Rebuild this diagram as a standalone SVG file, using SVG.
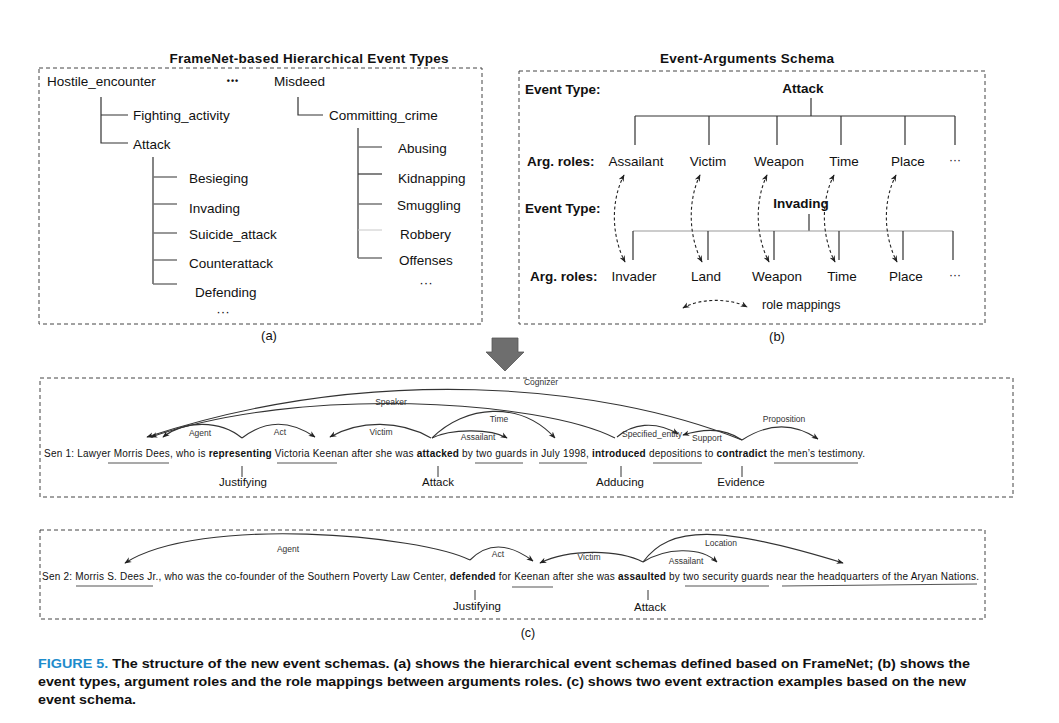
<svg xmlns="http://www.w3.org/2000/svg" width="1059" height="723" viewBox="0 0 1059 723">
<defs>
<style>
text{font-family:"Liberation Sans",Arial,sans-serif;fill:#111}
.t{font-size:13.5px}
.b{font-weight:bold}
.box{fill:none;stroke:#444;stroke-width:1;stroke-dasharray:4,3}
.tr{stroke:#333;stroke-width:1.2;fill:none}
.tg{stroke:#777;stroke-width:1.4;fill:none}
.arc{fill:none;stroke:#333;stroke-width:1.1;marker-end:url(#ah)}
.map{fill:none;stroke:#222;stroke-width:1.1;stroke-dasharray:3,2.5;marker-start:url(#ahs);marker-end:url(#ah)}
.al{font-size:8.5px;text-anchor:middle;fill:#333}
.sen{font-size:10px}
.ul{stroke:#555;stroke-width:1.2}
.tk{stroke:#333;stroke-width:1}
.fl{font-size:11.5px;text-anchor:middle}
.cap{font-size:13px;font-weight:bold}
</style>
<marker id="ah" viewBox="0 0 10 10" refX="9" refY="5" markerWidth="7" markerHeight="7" markerUnits="userSpaceOnUse" orient="auto"><path d="M0,1 L10,5 L0,9 L3,5 z" fill="#222"/></marker>
<marker id="ahs" viewBox="0 0 10 10" refX="9" refY="5" markerWidth="7" markerHeight="7" markerUnits="userSpaceOnUse" orient="auto-start-reverse"><path d="M0,1 L10,5 L0,9 L3,5 z" fill="#222"/></marker>
</defs>
<rect width="1059" height="723" fill="#fff"/>

<!-- Panel (a) -->
<g id="panel-a">
<text class="b" x="309" y="63" text-anchor="middle" font-size="13.5" textLength="279">FrameNet-based Hierarchical Event Types</text>
<rect class="box" x="39" y="68" width="443" height="256"/>
<text x="269" y="340" text-anchor="middle" font-size="13">(a)</text>
</g>
<g id="node-hostile"><text class="t" x="47" y="85.5">Hostile_encounter</text></g>
<g id="node-dots1"><text x="233" y="84" text-anchor="middle" font-size="9" letter-spacing="1" font-weight="bold">•••</text></g>
<g id="node-misdeed"><text class="t" x="274" y="85.5">Misdeed</text></g>
<g id="node-fighting"><text class="t" x="133" y="119.5">Fighting_activity</text></g>
<g id="node-attack-a"><text class="t" x="133" y="148.5">Attack</text></g>
<g id="node-besieging"><text class="t" x="189" y="182.5">Besieging</text></g>
<g id="node-invading-a"><text class="t" x="189" y="212.5">Invading</text></g>
<g id="node-suicide"><text class="t" x="189" y="238.5">Suicide_attack</text></g>
<g id="node-counter"><text class="t" x="189" y="267.5">Counterattack</text></g>
<g id="node-defending"><text class="t" x="195" y="296.5">Defending</text></g>
<g id="node-dots2"><text class="t" x="223" y="316" text-anchor="middle">···</text></g>
<g id="node-committing"><text class="t" x="329" y="119.5">Committing_crime</text></g>
<g id="node-abusing"><text class="t" x="398" y="152.5">Abusing</text></g>
<g id="node-kidnapping"><text class="t" x="398" y="182.5">Kidnapping</text></g>
<g id="node-smuggling"><text class="t" x="397" y="209.5">Smuggling</text></g>
<g id="node-robbery"><text class="t" x="400" y="238.5">Robbery</text></g>
<g id="node-offenses"><text class="t" x="399" y="264.5">Offenses</text></g>
<g id="node-dots3"><text class="t" x="426" y="287" text-anchor="middle">···</text></g>

<g id="connectors-a">
<path class="tr" d="M101,97 V143 H128 M101,115 H128"/>
<path class="tr" d="M153,157 V284"/>
<path class="tg" d="M153,177 H177 M153,204 H177 M153,233 H177 M153,260 H177 M153,284 H177"/>
<path class="tr" d="M298,97 V115 H323"/>
<path class="tr" d="M358,128 V258"/>
<path class="tg" d="M358,147 H382 M358,204 H382 M358,258 H382"/>
<path class="tr" d="M358,174 H382"/>
<path d="M358,230 H382" stroke="#c8c8c8" stroke-width="1"/>
</g>

<!-- Panel (b) -->
<g id="panel-b">
<text class="b" x="747" y="63" text-anchor="middle" font-size="13.5" textLength="174">Event-Arguments Schema</text>
<rect class="box" x="519" y="71" width="466" height="253"/>
<text x="777" y="341" text-anchor="middle" font-size="13">(b)</text>
</g>
<g id="node-et1"><text class="t b" x="525" y="93.5" font-size="13">Event Type:</text></g>
<g id="node-attack-b"><text class="t b" x="803" y="92.5" text-anchor="middle">Attack</text></g>
<g id="node-ar1"><text class="t b" x="527" y="165.5" font-size="13">Arg. roles:</text></g>
<g id="node-assailant"><text class="t" x="636" y="165.5" text-anchor="middle">Assailant</text></g>
<g id="node-victim-b"><text class="t" x="708" y="165.5" text-anchor="middle">Victim</text></g>
<g id="node-weapon1"><text class="t" x="779" y="165.5" text-anchor="middle">Weapon</text></g>
<g id="node-time1"><text class="t" x="844" y="165.5" text-anchor="middle">Time</text></g>
<g id="node-place1"><text class="t" x="908" y="165.5" text-anchor="middle">Place</text></g>
<g id="node-dots4"><text x="955" y="164" text-anchor="middle" font-size="12" fill="#222">···</text></g>
<g id="node-et2"><text class="t b" x="525" y="212.5" font-size="13">Event Type:</text></g>
<g id="node-invading-b"><text class="t b" x="801" y="207.5" text-anchor="middle">Invading</text></g>
<g id="node-ar2"><text class="t b" x="530" y="280.5" font-size="13">Arg. roles:</text></g>
<g id="node-invader"><text class="t" x="634" y="280.5" text-anchor="middle">Invader</text></g>
<g id="node-land"><text class="t" x="706" y="280.5" text-anchor="middle">Land</text></g>
<g id="node-weapon2"><text class="t" x="777" y="280.5" text-anchor="middle">Weapon</text></g>
<g id="node-time2"><text class="t" x="842" y="280.5" text-anchor="middle">Time</text></g>
<g id="node-place2"><text class="t" x="906" y="280.5" text-anchor="middle">Place</text></g>
<g id="node-dots5"><text x="955" y="279" text-anchor="middle" font-size="12" fill="#222">···</text></g>
<g id="node-legend"><text x="762" y="308.5" font-size="12.5">role mappings</text></g>

<g id="connectors-b">
<path class="tr" d="M811,98 V116 M635,116 H955 M635,116 V145 M709,116 V145 M777,116 V145 M841,116 V145 M905,116 V145 M955,116 V145"/>
<path class="tr" d="M809,214 V231"/>
<path d="M633,231 H953" stroke="#999" stroke-width="1.2"/>
<path class="tr" d="M633,231 V260 M708,231 V260 M774,231 V260 M839,231 V260 M903,231 V260 M953,231 V260"/>
<path class="map" d="M624,175 C 611,200 611,235 625,262"/>
<path class="map" d="M700,175 C 688,200 688,235 702,262"/>
<path class="map" d="M767,175 C 755,200 755,235 769,262"/>
<path class="map" d="M834,175 C 821,200 821,235 835,262"/>
<path class="map" d="M896,175 C 883,200 883,235 897,262"/>
<path class="map" d="M683,308 C 700,298 730,298 747,307"/>
</g>

<!-- Down arrow -->
<g id="down-arrow"><polygon points="492,338 518,338 518,352 524,352 505,371 486,352 492,352" fill="#6e6e6e" stroke="#555" stroke-width="0.8"/></g>

<!-- Panel (c) -->
<g id="panel-c">
<rect class="box" x="40" y="378" width="973" height="119"/>
<rect class="box" x="40" y="530" width="945" height="89"/>
<text x="528" y="637" text-anchor="middle" font-size="12.5">(c)</text>
</g>

<g id="node-sen1">
<text class="sen" x="44" y="456.5" textLength="821">Sen 1: Lawyer Morris Dees, who is <tspan class="b">representing</tspan> Victoria Keenan after she was <tspan class="b">attacked</tspan> by two guards in July 1998, <tspan class="b">introduced</tspan> depositions to <tspan class="b">contradict</tspan> the men’s testimony.</text>
</g>
<g id="node-justifying1"><text class="fl" x="243" y="485.5">Justifying</text></g>
<g id="node-attack1"><text class="fl" x="438" y="485.5">Attack</text></g>
<g id="node-adducing"><text class="fl" x="620" y="485.5">Adducing</text></g>
<g id="node-evidence"><text class="fl" x="741" y="485.5">Evidence</text></g>

<g id="node-sen2">
<text class="sen" x="42" y="579.5" font-size="9.5" textLength="937">Sen 2: Morris S. Dees Jr., who was the co-founder of the Southern Poverty Law Center, <tspan class="b">defended</tspan> for Keenan after she was <tspan class="b">assaulted</tspan> by two security guards near the headquarters of the Aryan Nations.</text>
</g>
<g id="node-justifying2"><text class="fl" x="477" y="610">Justifying</text></g>
<g id="node-attack2"><text class="fl" x="650" y="611">Attack</text></g>

<g id="connectors-c">
<path class="ul" d="M108,463 H169 M277,463 H337 M475,463 H523 M539,463 H587 M653,463 H702 M774,463 H858"/>
<path class="tk" d="M242,466 V477 M438,466 V477 M621,466 V477 M742,466 V477"/>
<path class="arc" d="M742,440 C 600,383 370,364 147,437"/>
<path class="arc" d="M615,438 C 540,400 300,385 151,437"/>
<path class="arc" d="M242,438 C 220,420 185,420 163,437"/>
<path class="arc" d="M242,438 C 265,420 290,420 315,437"/>
<path class="arc" d="M431,438 C 400,420 360,420 330,437"/>
<path class="arc" d="M432,438 C 465,405 520,400 555,438"/>
<path class="arc" d="M432,438 C 450,429 490,428 507,438"/>
<path class="arc" d="M617,437 C 632,424 655,420 678,434"/>
<path class="arc" d="M742,440 C 725,428 705,428 683,435"/>
<path class="arc" d="M742,440 C 765,425 790,420 818,439"/>
<path class="ul" d="M76,586 H153 M512,587 H553 M685,586 H769"/>
<path class="ul" d="M782,586 L977,584"/>
<path class="tk" d="M475,590 V600 M648,590 V600"/>
<path class="arc" d="M470,560 C 420,535 200,515 125,563"/>
<path class="arc" d="M470,560 C 485,545 505,540 533,561"/>
<path class="arc" d="M643,562 C 620,550 570,548 540,563"/>
<path class="arc" d="M643,562 C 665,548 700,546 717,562"/>
<path class="arc" d="M643,562 C 670,525 720,525 843,563"/>
</g>

<g id="arc-labels">
<text class="al" x="541" y="385">Cognizer</text>
<text class="al" x="391" y="405">Speaker</text>
<text class="al" x="200" y="436">Agent</text>
<text class="al" x="280" y="435">Act</text>
<text class="al" x="381" y="435">Victim</text>
<text class="al" x="499" y="422">Time</text>
<text class="al" x="478" y="440">Assailant</text>
<text class="al" x="652" y="437">Specified_entity</text>
<text class="al" x="707" y="441">Support</text>
<text class="al" x="784" y="422">Proposition</text>
<text class="al" x="288" y="552">Agent</text>
<text class="al" x="498" y="557">Act</text>
<text class="al" x="589" y="560">Victim</text>
<text class="al" x="686" y="564">Assailant</text>
<text class="al" x="721" y="546">Location</text>
</g>

<g id="caption">
<text class="cap" x="38" y="667.5" textLength="932" lengthAdjust="spacingAndGlyphs"><tspan fill="#1e8ccc">FIGURE 5.</tspan> The structure of the new event schemas. (a) shows the hierarchical event schemas defined based on FrameNet; (b) shows the</text>
<text class="cap" x="38" y="685.5" textLength="928" lengthAdjust="spacingAndGlyphs">event types, argument roles and the role mappings between arguments roles. (c) shows two event extraction examples based on the new</text>
<text class="cap" x="38" y="703.5" textLength="98" lengthAdjust="spacingAndGlyphs">event schema.</text>
</g>
</svg>
